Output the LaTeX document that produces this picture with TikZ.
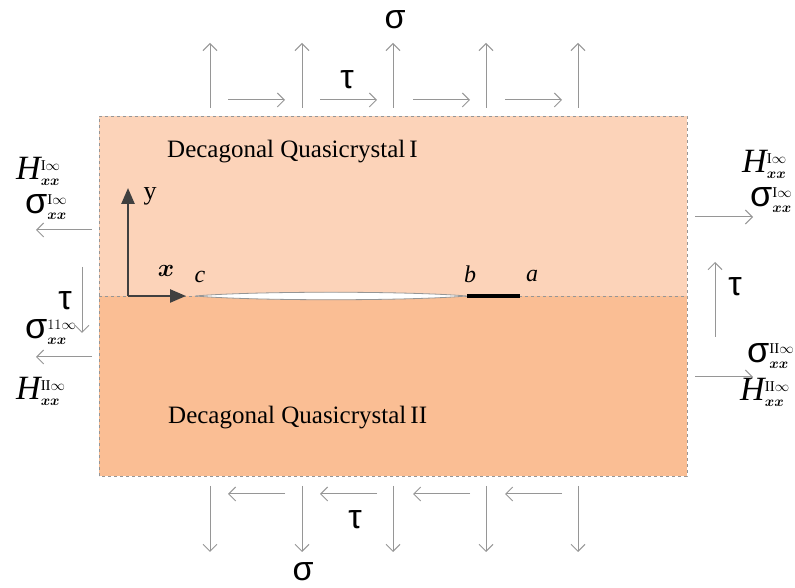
\documentclass[tikz,border=0pt]{standalone}
\usepackage{fontspec}
\usepackage{amsmath}
\setmainfont{Liberation Serif}
\newfontfamily\grk{Liberation Sans}
\usetikzlibrary{arrows.meta}
\DeclareMathSizes{30}{30}{15}{11}

\definecolor{upperqc}{RGB}{252,211,185}
\definecolor{lowerqc}{RGB}{250,190,148}
\definecolor{loadgray}{RGB}{150,150,150}
\definecolor{axisgray}{RGB}{64,64,64}

\tikzset{
  load/.style={draw=loadgray, line width=1pt, -{Straight Barb[length=7pt,width=14pt]}},
  axis/.style={draw=axisgray, line width=2.5pt, -{Triangle[length=16pt,width=13pt]}},
  greek/.style={font=\grk\fontsize{34}{36}\selectfont, inner sep=0pt},
  field/.style={font=\fontsize{30}{32}\selectfont, inner sep=0pt, anchor=west},
  regionlabel/.style={font=\fontsize{25}{28}\selectfont, anchor=west, inner sep=0pt},
  tiplabel/.style={font=\fontsize{24}{26}\selectfont\itshape, inner sep=0pt}
}

\newcommand{\xxsub}{\boldsymbol{x}\boldsymbol{x}}
\newcommand{\fieldsig}[1]{{\grk\fontsize{36}{36}\selectfont σ}$^{#1}_{\xxsub}$}
\newcommand{\fieldh}[1]{{\fontsize{34}{34}\selectfont\itshape H}$^{#1}_{\xxsub}$}

\begin{document}
\begin{tikzpicture}[x=1pt,y=1pt]
\useasboundingbox (0,0) rectangle (795,588);
% the two quasicrystals
\fill[upperqc] (99,292) rectangle (687,472);
\fill[lowerqc] (99,112) rectangle (687,292);
\draw[loadgray, dashed, line width=0.8pt] (99,112) rectangle (687,472);
\draw[loadgray, dashed, line width=0.8pt] (99,292) -- (687,292);
\node[regionlabel] (qcone) at (167,436) {Decagonal Quasicrystal\,I};
\node[regionlabel] (qctwo) at (168,170) {Decagonal Quasicrystal\,II};

% top and bottom loads
\foreach \px [count=\i] in {210,302,393,486,578} {
  \coordinate (tb\i) at (\px,480); \coordinate (tt\i) at (\px,545);
  \coordinate (bt\i) at (\px,102); \coordinate (bb\i) at (\px,36);
  \draw[load] (tb\i) -- (tt\i);
  \draw[load] (bt\i) -- (bb\i);
}
\foreach \px [count=\i] in {228,320,413,505} {
  \coordinate (th\i) at (\px,488); \coordinate (tr\i) at (\px+57,488);
  \coordinate (bh\i) at (\px+57,94); \coordinate (bl\i) at (\px,94);
  \draw[load] (th\i) -- (tr\i);
  \draw[load] (bh\i) -- (bl\i);
}
\node[greek] (sigtop) at (395,568) {σ};
\node[greek] (tautop) at (347,508) {τ};
\node[greek] (taubot) at (355,68) {τ};
\node[greek] (sigbot) at (303,16) {σ};

% left side
\coordinate (lua) at (92,358); \coordinate (lub) at (36,358);
\coordinate (lla) at (92,231); \coordinate (llb) at (36,231);
\coordinate (lva) at (82,321); \coordinate (lvb) at (82,255);
\draw[load] (lua) -- (lub);
\draw[load] (lla) -- (llb);
\draw[load] (lva) -- (lvb);
\node[field] (hleftI) at (16,417) {\fieldh{\mathrm{I}\infty}};
\node[field] (sleftI) at (25,381) {\fieldsig{\mathrm{I}\infty}};
\node[greek] (tauleft) at (65,287) {τ};
\node[field] (sleftII) at (25,256) {\fieldsig{11\infty}};
\node[field] (hleftII) at (16,197) {\fieldh{\mathrm{II}\infty}};

% right side
\coordinate (rua) at (695,371); \coordinate (rub) at (753,371);
\coordinate (rla) at (695,211); \coordinate (rlb) at (753,211);
\coordinate (rva) at (715,251); \coordinate (rvb) at (715,326);
\draw[load] (rua) -- (rub);
\draw[load] (rla) -- (rlb);
\draw[load] (rva) -- (rvb);
\node[field] (hrightI) at (742,424) {\fieldh{\mathrm{I}\infty}};
\node[field] (srightI) at (750,388) {\fieldsig{\mathrm{I}\infty}};
\node[greek] (tauright) at (735,301) {τ};
\node[field] (srightII) at (747,232) {\fieldsig{\mathrm{II}\infty}};
\node[field] (hrightII) at (740,196) {\fieldh{\mathrm{II}\infty}};

% axes
\coordinate (origin) at (128,292);
\coordinate (ytip) at (128,400);
\coordinate (xtip) at (186,292);
\draw[axis] (origin) -- (ytip);
\draw[axis] (origin) -- (xtip);
\node[font=\fontsize{26}{28}\selectfont, inner sep=0pt] (ylab) at (150,392) {y};
\node[font=\fontsize{26}{28}\selectfont, inner sep=0pt] (xlab) at (166,317) {$\boldsymbol{x}$};

% crack and interface segment
\coordinate (c) at (195,292);
\coordinate (b) at (467,292);
\coordinate (a) at (520,292);
\draw[fill=white, draw=loadgray, line width=0.8pt]
  (c) .. controls +(60,5) and +(-60,5) .. (b)
      .. controls +(-60,-5) and +(60,-5) .. (c);
\draw[black, line width=3.5pt] (b) -- (a);
\node[tiplabel] (clab) at (200,311) {c};
\node[tiplabel] (blab) at (470,314) {b};
\node[tiplabel] (alab) at (532,312) {a};
\end{tikzpicture}
\end{document}
